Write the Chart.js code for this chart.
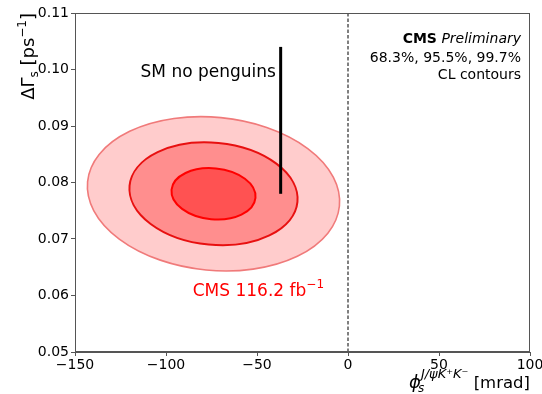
<!DOCTYPE html>
<html>
<head>
<meta charset="utf-8">
<title>phi_s vs DeltaGamma_s</title>
<script src="https://cdn.jsdelivr.net/npm/chart.js@4.4.1/dist/chart.umd.min.js"></script>
<style>
  html, body { margin: 0; padding: 0; background: #fff; }
  #plot { display: block; }
</style>
</head>
<body>
<canvas id="plot" width="542" height="394"></canvas>
<script>
// --- Datos del ajuste y de la predicción del SM ---

const xTicks = [-150, -100, -50, 0, 50, 100];           // phi_s [mrad]
const yTicks = [0.05, 0.06, 0.07, 0.08, 0.09, 0.10, 0.11]; // DeltaGamma_s [ps^-1]

// resultado del ajuste: centro, incertidumbres y correlación
const fitCentre = [-73.9, 0.0780];
const fitSigma = [23.1, 0.00455];
const fitRho = [-0.10];

// contornos, en unidades de sigma (68.3%, 95.5%, 99.7%)
const clLevels = ['68.3%', '95.5%', '99.7%'];
const clSigmas = [1, 2, 3];

// predicción del SM sin penguins: phi_s fijo, banda en DeltaGamma_s
const smPhi = [-37, -37];
const smDeltaGamma = [0.078, 0.104];

// línea vertical en phi_s = 0
const zeroPhi = [0, 0];
const zeroDeltaGamma = [0.05, 0.11];

// --- Estilos ---
const FONT = '"DejaVu Sans", Verdana, sans-serif';
const AXIS_COLOR = '#555';
// de dentro hacia fuera
const contourFill = ['rgb(255,82,82)', 'rgb(255,142,142)', 'rgb(255,204,204)'];
const contourLine = ['rgb(255,0,0)', 'rgb(232,16,16)', 'rgb(240,122,122)'];
const contourWidth = [2, 2, 1.6];

function minus(v) {
  return String(v).replace('-', '\u2212');
}

// Dibuja una secuencia de trozos de texto (con sub/superíndices) desde x hacia la derecha
function drawRuns(ctx, runs, x, y) {
  let cx = x;
  runs.forEach(r => {
    ctx.font = r.font;
    ctx.fillText(r.text, cx, y + (r.dy || 0));
    cx += ctx.measureText(r.text).width;
  });
  return cx - x;
}

function runsWidth(ctx, runs) {
  let w = 0;
  runs.forEach(r => {
    ctx.font = r.font;
    w += ctx.measureText(r.text).width;
  });
  return w;
}

// Elipses de confianza a partir de la covarianza, pasada a píxeles con las escalas
const contourPlugin = {
  id: 'contours',
  beforeDatasetsDraw(chart) {
    const { ctx, scales: { x, y } } = chart;
    const cx = x.getPixelForValue(fitCentre[0]);
    const cy = y.getPixelForValue(fitCentre[1]);
    const ax = x.getPixelForValue(fitCentre[0] + 1) - cx;
    const ay = y.getPixelForValue(fitCentre[1] + 0.001) - cy;
    const sx = ax * fitSigma[0];
    const sy = ay * fitSigma[1] * 1000;
    const sxx = sx * sx;
    const syy = sy * sy;
    const sxy = fitRho[0] * sx * sy;
    const theta = 0.5 * Math.atan2(2 * sxy, sxx - syy);
    const mid = (sxx + syy) / 2;
    const diff = Math.sqrt(((sxx - syy) / 2) ** 2 + sxy * sxy);
    const r1 = Math.sqrt(mid + diff);
    const r2 = Math.sqrt(mid - diff);

    ctx.save();
    for (let i = clSigmas.length - 1; i >= 0; i--) {
      const k = clSigmas[i];
      ctx.beginPath();
      ctx.ellipse(cx, cy, k * r1, k * r2, theta, 0, 2 * Math.PI);
      ctx.fillStyle = contourFill[i];
      ctx.fill();
      ctx.lineWidth = contourWidth[i];
      ctx.strokeStyle = contourLine[i];
      ctx.stroke();
    }
    ctx.restore();
  }
};

// Marco completo, títulos de los ejes y etiquetas
const labelsPlugin = {
  id: 'labels',
  afterDraw(chart) {
    const { ctx, chartArea: a, scales: { x, y } } = chart;
    ctx.save();

    ctx.strokeStyle = AXIS_COLOR;
    ctx.lineWidth = 1;
    ctx.strokeRect(a.left + 0.5, a.top + 0.5, a.right - a.left - 1, a.bottom - a.top - 1);

    ctx.fillStyle = '#000';

    // SM no penguins
    ctx.font = '17px ' + FONT;
    ctx.textAlign = 'left';
    ctx.textBaseline = 'alphabetic';
    ctx.fillText('SM no penguins', x.getPixelForValue(-114.0), y.getPixelForValue(0.0987));

    // CMS 116.2 fb^-1
    ctx.fillStyle = 'rgb(255,0,0)';
    drawRuns(ctx, [
      { text: 'CMS 116.2 fb', font: '17px ' + FONT },
      { text: '\u22121', font: '12px ' + FONT, dy: -8 }
    ], x.getPixelForValue(-85.3), y.getPixelForValue(0.0600));

    // bloque de la esquina superior derecha
    ctx.fillStyle = '#000';
    const right = a.right - 9;
    const head = [
      { text: 'CMS', font: 'bold 14px ' + FONT },
      { text: ' Preliminary', font: 'italic 14px ' + FONT }
    ];
    drawRuns(ctx, head, right - runsWidth(ctx, head), a.top + 30);
    ctx.font = '14px ' + FONT;
    ctx.textAlign = 'right';
    ctx.fillText(clLevels.join(', '), right, a.top + 49);
    ctx.fillText('CL contours', right, a.top + 66);
    ctx.textAlign = 'left';

    // título eje x: phi_s^{J/psi K+K-} [mrad]
    const xTitle = [
      { text: '\u03d5', font: 'italic 18px ' + FONT },
      { text: 'J/\u03c8K\u207aK\u207b', font: 'italic 13px ' + FONT, dy: -10 },
      { text: ' [mrad]', font: '16.5px ' + FONT }
    ];
    const xw = runsWidth(ctx, xTitle);
    const x0 = a.right - xw;
    const base = 388;
    drawRuns(ctx, xTitle, x0, base);
    ctx.font = 'italic 12px ' + FONT;
    ctx.fillText('s', x0 + 9, base + 4);

    // título eje y: DeltaGamma_s [ps^-1], alineado arriba
    const yTitle = [
      { text: '\u0394\u0393', font: '18px ' + FONT },
      { text: 's', font: '12px ' + FONT, dy: 4 },
      { text: ' [ps', font: '18px ' + FONT },
      { text: '\u22121', font: '12px ' + FONT, dy: -8 },
      { text: ']', font: '18px ' + FONT }
    ];
    ctx.translate(34, a.top);
    ctx.rotate(-Math.PI / 2);
    drawRuns(ctx, yTitle, -runsWidth(ctx, yTitle), 0);

    ctx.restore();
  }
};

function buildChart() {
  const ctx = document.getElementById('plot').getContext('2d');
  const tickFont = { family: FONT, size: 14 };

  return new Chart(ctx, {
    type: 'scatter',
    data: {
      datasets: [
        {
          label: 'SM no penguins',
          data: smPhi.map((p, i) => ({ x: p, y: smDeltaGamma[i] })),
          showLine: true,
          borderColor: '#000',
          borderWidth: 3,
          pointRadius: 0
        },
        {
          label: 'phi_s = 0',
          data: zeroPhi.map((p, i) => ({ x: p, y: zeroDeltaGamma[i] })),
          showLine: true,
          borderColor: '#000',
          borderWidth: 1,
          borderDash: [3.5, 2],
          pointRadius: 0
        }
      ]
    },
    options: {
      responsive: false,
      animation: false,
      devicePixelRatio: 1,
      layout: { padding: { top: 13, right: 12, left: 0, bottom: 0 } },
      plugins: {
        legend: { display: false },
        tooltip: { enabled: false }
      },
      scales: {
        x: {
          type: 'linear',
          min: xTicks[0],
          max: xTicks[xTicks.length - 1],
          afterBuildTicks: scale => { scale.ticks = xTicks.map(v => ({ value: v })); },
          afterFit: scale => {
            scale.height = 42;
            scale.paddingLeft = 0;
            scale.paddingRight = 12;
          },
          ticks: {
            font: tickFont,
            color: '#000',
            padding: 1,
            maxRotation: 0,
            callback: v => minus(v)
          },
          grid: { drawOnChartArea: false, drawTicks: true, tickLength: 4, color: AXIS_COLOR },
          border: { display: true, color: AXIS_COLOR, width: 1 }
        },
        y: {
          type: 'linear',
          min: yTicks[0],
          max: yTicks[yTicks.length - 1],
          afterBuildTicks: scale => { scale.ticks = yTicks.map(v => ({ value: v })); },
          afterFit: scale => { scale.width = 75; },
          ticks: {
            font: tickFont,
            color: '#000',
            padding: 2,
            callback: v => v.toFixed(2)
          },
          grid: { drawOnChartArea: false, drawTicks: true, tickLength: 4, color: AXIS_COLOR },
          border: { display: true, color: AXIS_COLOR, width: 1 }
        }
      }
    },
    plugins: [contourPlugin, labelsPlugin]
  });
}

document.addEventListener('DOMContentLoaded', () => {
  buildChart();
});
</script>
</body>
</html>
